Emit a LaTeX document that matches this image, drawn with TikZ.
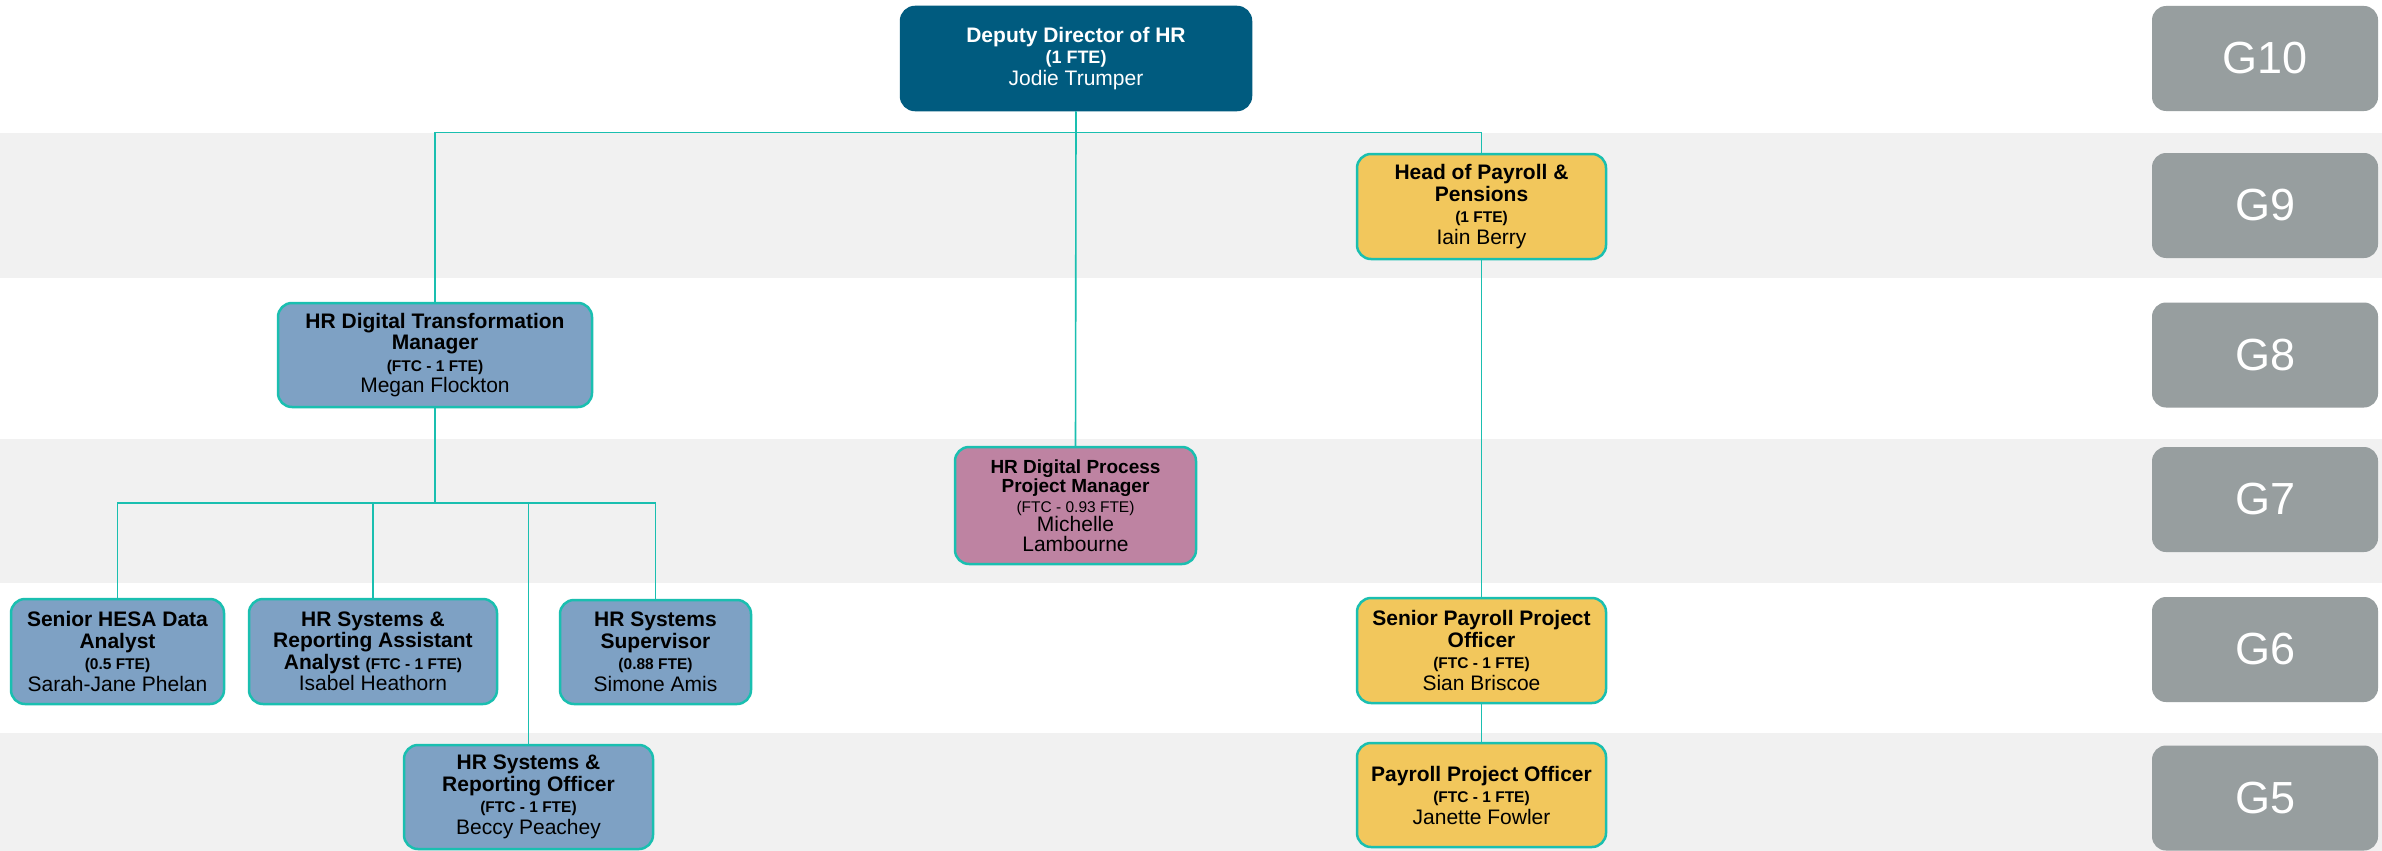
\documentclass[tikz,border=0pt]{standalone}
\usepackage{fontspec}
\setmainfont{Liberation Sans}
\usetikzlibrary{calc}
\definecolor{bandgray}{HTML}{F1F1F1}
\definecolor{darkblue}{HTML}{005B7F}
\definecolor{yel}{HTML}{F2C75C}
\definecolor{blu}{HTML}{7EA1C4}
\definecolor{mauve}{HTML}{BE83A2}
\definecolor{tealc}{HTML}{1ABFB0}
\definecolor{gradegray}{HTML}{979E9F}
\newcommand{\fte}[1]{{\fontsize{15.5}{21}\selectfont\bfseries #1}}
\tikzset{
  role/.style={draw=tealc, line width=2.5pt, rounded corners=14pt, align=center,
    inner sep=2pt, font=\fontsize{21}{21.5}\selectfont},
  bluebox/.style={role, fill=blu},
  yelbox/.style={role, fill=yel},
  grade/.style={fill=gradegray, rounded corners=14pt, minimum width=226pt, minimum height=105pt,
    text=white, font=\fontsize{45}{45}\selectfont},
  conn/.style={draw=tealc, line width=1.6pt}
}
\begin{document}
\begin{tikzpicture}[x=1pt,y=-1pt]
\useasboundingbox (0,0) rectangle (2382,851);
\fill[white] (0,0) rectangle (2382,851);
\fill[bandgray] (0,133) rectangle (2382,278);
\fill[bandgray] (0,439) rectangle (2382,583);
\fill[bandgray] (0,733) rectangle (2382,851);

% grade labels
\node[grade] (g10) at (2265,58.5) {G10};
\node[grade] (g9) at (2265,205.5) {G9};
\node[grade] (g8) at (2265,355) {G8};
\node[grade] (g7) at (2265,499.5) {G7};
\node[grade] (g6) at (2265,649.5) {G6};
\node[grade] (g5) at (2265,798) {G5};

% role boxes
\node[role, fill=darkblue, draw=darkblue, text=white, minimum width=350pt, minimum height=103pt] (dep) at (1076,58.5)
  {\bfseries Deputy Director of HR\\{\fontsize{18}{21}\selectfont\bfseries (1 FTE)}\\Jodie Trumper};
\node[yelbox, minimum width=249pt, minimum height=105pt] (hp) at (1481.5,206.5)
  {\bfseries Head of Payroll \&\\\bfseries Pensions\\\fte{(1 FTE)}\\Iain Berry};
\node[bluebox, minimum width=314pt, minimum height=104pt] (tr) at (435,355)
  {\bfseries HR Digital Transformation\\\bfseries Manager\\\fte{(FTC - 1 FTE)}\\Megan Flockton};
\node[role, fill=mauve, minimum width=241pt, minimum height=117pt, font=\fontsize{21}{19.5}\selectfont] (pm) at (1075.5,505.5)
  {{\fontsize{19}{19.5}\selectfont\bfseries HR Digital Process}\\{\fontsize{19}{19.5}\selectfont\bfseries Project Manager}\\{\fontsize{15.5}{17}\selectfont (FTC - 0.93 FTE)}\\Michelle\\Lambourne};
\node[bluebox, minimum width=213pt, minimum height=105pt] (hesa) at (117.5,651.5)
  {\bfseries Senior HESA Data\\\bfseries Analyst\\\fte{(0.5 FTE)}\\Sarah-Jane Phelan};
\node[bluebox, minimum width=248pt, minimum height=105pt] (asst) at (373,651.5)
  {\bfseries HR Systems \&\\\bfseries Reporting Assistant\\\bfseries Analyst \fte{(FTC - 1 FTE)}\\Isabel Heathorn};
\node[bluebox, minimum width=191pt, minimum height=104pt] (sup) at (655.5,652)
  {\bfseries HR Systems\\\bfseries Supervisor\\\fte{(0.88 FTE)}\\Simone Amis};
\node[bluebox, minimum width=249pt, minimum height=104pt] (off) at (528.5,797)
  {\bfseries HR Systems \&\\\bfseries Reporting Officer\\\fte{(FTC - 1 FTE)}\\Beccy Peachey};
\node[yelbox, minimum width=249pt, minimum height=105pt] (spo) at (1481.5,650.5)
  {\bfseries Senior Payroll Project\\\bfseries Officer\\\fte{(FTC - 1 FTE)}\\Sian Briscoe};
\node[yelbox, minimum width=249pt, minimum height=104pt] (ppo) at (1481.5,795)
  {\bfseries Payroll Project Officer\\\fte{(FTC - 1 FTE)}\\Janette Fowler};

% junctions
\coordinate (j1) at (1076,132.5);
\coordinate (j2) at (435,503);

% connectors
\draw[conn] (dep.south) -- (pm.north);
\draw[conn] (tr.north) |- (j1) -| (hp.north);
\draw[conn] (hp.south) -- (spo.north);
\draw[conn] (spo.south) -- (ppo.north);
\draw[conn] (tr.south) -- (j2);
\draw[conn] (hesa.north) |- (j2) -| (sup.north);
\draw[conn] (j2) -| (asst.north);
\draw[conn] (j2) -| (off.north);
\end{tikzpicture}
\end{document}
